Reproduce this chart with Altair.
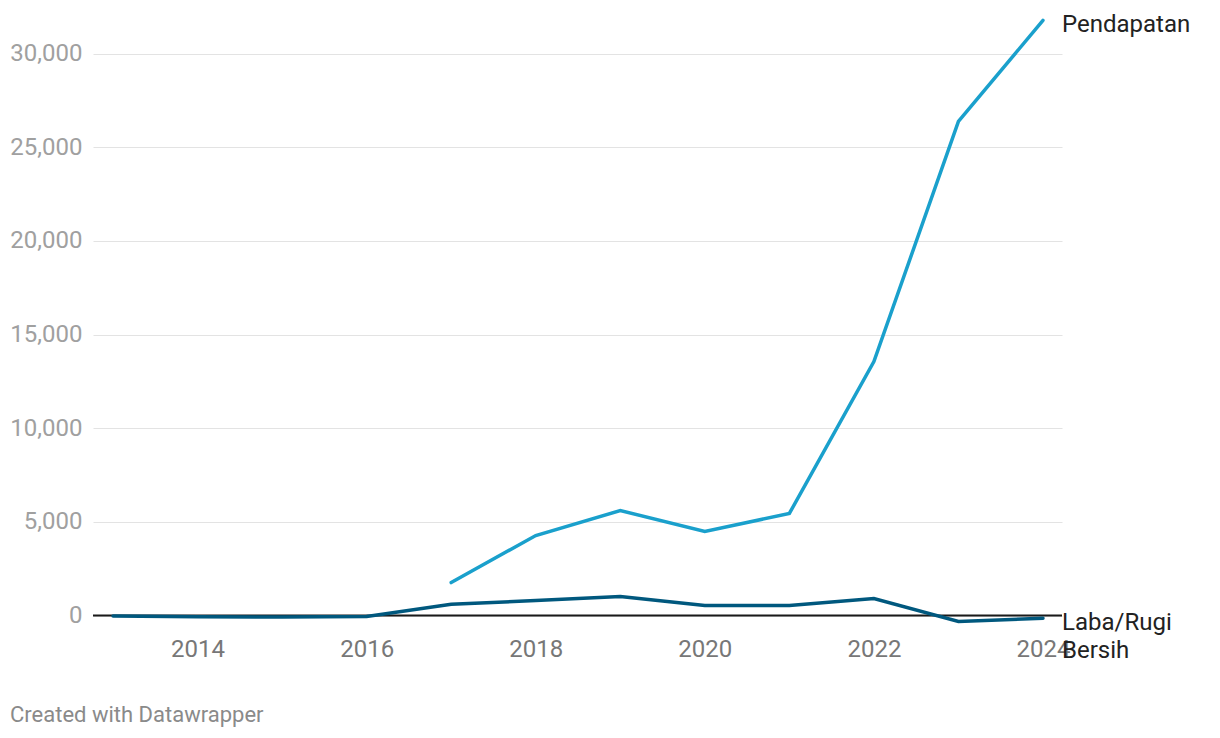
import altair as alt
import pandas as pd

years = [2013, 2014, 2015, 2016, 2017, 2018, 2019, 2020, 2021, 2022, 2023, 2024]
laba_rugi = [-20, -60, -80, -50, 600, 800, 1010, 530, 530, 910, -320, -140]
pend_years = [2017, 2018, 2019, 2020, 2021, 2022, 2023, 2024]
pendapatan = [1760, 4270, 5600, 4490, 5450, 13560, 26380, 31780]
y_ticks = [0, 5000, 10000, 15000, 20000, 25000, 30000]
x_ticks = [2014, 2016, 2018, 2020, 2022, 2024]

df_p = pd.DataFrame({"year": pend_years, "value": pendapatan, "series": "Pendapatan"})
df_l = pd.DataFrame({"year": years, "value": laba_rugi, "series": "Laba/Rugi Bersih"})

FONT = "Roboto"
x_scale = alt.Scale(domain=[2012.763, 2024.225], nice=False, zero=False)
y_scale = alt.Scale(domain=[-400, 31800], nice=False, zero=False)

x_enc = alt.X("year:Q", scale=x_scale,
              axis=alt.Axis(values=x_ticks, format="d", grid=False, domain=False, ticks=False,
                            labelFontSize=24, labelColor="#777777", labelFont=FONT,
                            labelPadding=14, title=None))
y_enc = alt.Y("value:Q", scale=y_scale,
              axis=alt.Axis(values=y_ticks, format=",d", grid=True, gridColor="#e3e3e3",
                            gridWidth=1, domain=False, ticks=False, labelFontSize=24,
                            labelColor="#a0a0a0", labelFont=FONT, labelPadding=11, title=None))

grid_base = alt.Chart(df_l).mark_line(opacity=0).encode(x=x_enc, y=y_enc)

zero = alt.Chart(pd.DataFrame({"v": [0]})).mark_rule(color="#1a1a1a", strokeWidth=2).encode(
    y=alt.Y("v:Q", scale=y_scale))

line_p = alt.Chart(df_p).mark_line(color="#1aa0cc", strokeWidth=3.5, strokeCap="round").encode(
    x=alt.X("year:Q", scale=x_scale), y=alt.Y("value:Q", scale=y_scale))
line_l = alt.Chart(df_l).mark_line(color="#00587e", strokeWidth=3.5, strokeCap="round").encode(
    x=alt.X("year:Q", scale=x_scale), y=alt.Y("value:Q", scale=y_scale))

lab_p = alt.Chart(df_p.tail(1)).mark_text(align="left", baseline="middle", dx=19, dy=5,
                                          fontSize=24, font=FONT, color="#222222").encode(
    x=alt.X("year:Q", scale=x_scale), y=alt.Y("value:Q", scale=y_scale), text="series:N")
lab_l = alt.Chart(df_l.tail(1)).mark_text(align="left", baseline="top", dx=19, dy=-7,
                                          fontSize=24, lineHeight=28, lineBreak="\n",
                                          font=FONT, color="#222222").encode(
    x=alt.X("year:Q", scale=x_scale), y=alt.Y("value:Q", scale=y_scale),
    text=alt.value("Laba/Rugi\nBersih"))

footer = alt.Chart(pd.DataFrame({"t": ["Created with Datawrapper"]})).mark_text(
    align="left", baseline="middle", fontSize=22, font=FONT, color="#8a8a8a").encode(
    x=alt.value(-83), y=alt.value(695), text="t:N")

chart = alt.layer(grid_base, zero, line_p, line_l, lab_p, lab_l, footer).properties(
    width=969, height=603,
    background="white",
    autosize=alt.AutoSizeParams(type="none"),
    padding={"left": 85, "top": 12, "right": 150, "bottom": 115},
).configure_view(stroke="transparent", strokeWidth=0)

chart.save("out.html", embed_options={"renderer": "svg", "actions": False})
